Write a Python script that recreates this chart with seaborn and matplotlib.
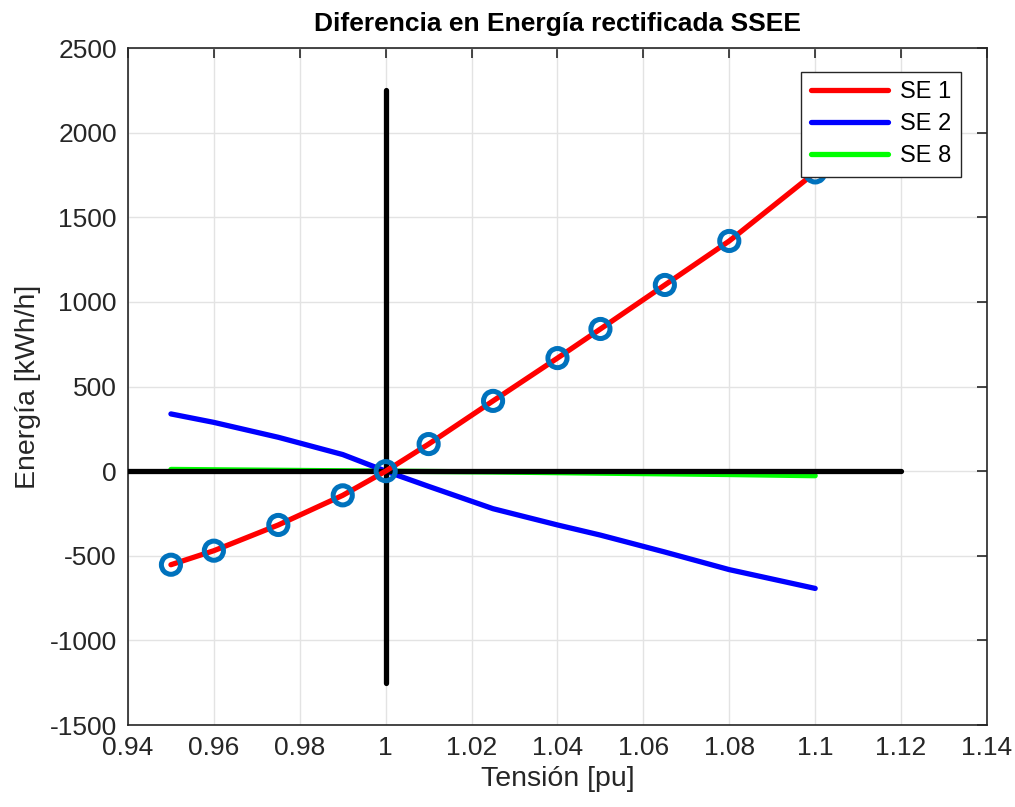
import numpy as np
import pandas as pd
import seaborn as sns
import matplotlib.pyplot as plt

# datos
tension = [0.95, 0.96, 0.975, 0.99, 1.0, 1.01, 1.025, 1.04, 1.05, 1.065, 1.08, 1.1]
se1 = [-553, -470, -318, -143, 0, 160, 415, 668, 840, 1100, 1360, 1765]
se2 = [338, 288, 200, 98, 0, -90, -222, -318, -378, -478, -582, -693]
se8 = [10, 8, 5, 2, 0, -2, -5, -9, -12, -16, -20, -27]

x_ticks = [0.94, 0.96, 0.98, 1, 1.02, 1.04, 1.06, 1.08, 1.1, 1.12, 1.14]
x_ticklabels = ["0.94", "0.96", "0.98", "1", "1.02", "1.04", "1.06", "1.08", "1.1", "1.12", "1.14"]
y_ticks = [-1500, -1000, -500, 0, 500, 1000, 1500, 2000, 2500]

df = pd.DataFrame({"tension": tension, "SE 1": se1, "SE 2": se2, "SE 8": se8})

sns.set_theme(style="white")
plt.rcParams["font.family"] = ["Liberation Sans", "DejaVu Sans"]
plt.rcParams["axes.unicode_minus"] = False

fig = plt.figure(figsize=(10.15, 8.07), dpi=100)
ax = fig.add_axes([0.1261, 0.1016, 0.8463, 0.8389])

lw = 3.8
sns.lineplot(x="tension", y="SE 8", data=df, color="#00ff00", lw=lw, ax=ax, zorder=2)
sns.lineplot(x="tension", y="SE 2", data=df, color="#0000ff", lw=lw, ax=ax, zorder=3)
sns.lineplot(x="tension", y="SE 1", data=df, color="#ff0000", lw=lw, ax=ax, zorder=4)

# ejes de referencia
ax.plot([1, 1], [-1250, 2250], color="black", lw=3.8, zorder=3.5)
ax.plot([0.94, 1.12], [0, 0], color="black", lw=3.8, zorder=3.5)

# marcadores
sns.scatterplot(x="tension", y="SE 1", data=df, marker="o", s=190, facecolor="none",
                edgecolor="#0072BD", linewidth=3.6, ax=ax, zorder=5)

ax.set_xlim(0.94, 1.14)
ax.set_ylim(-1500, 2500)
ax.set_xticks(x_ticks)
ax.set_xticklabels(x_ticklabels)
ax.set_yticks(y_ticks)
ax.grid(True, color="#e3e3e3", lw=1.0)
ax.set_axisbelow(True)
for s in ax.spines.values():
    s.set_visible(True)
    s.set_color("#262626")
    s.set_linewidth(1.2)
ax.tick_params(direction="in", length=7, width=1.2, color="#262626", labelsize=19,
               labelcolor="#262626", top=True, right=True, pad=8)

ax.set_title("Diferencia en Energía rectificada SSEE", fontsize=19, fontweight="bold",
             pad=12, color="black")
ax.set_xlabel("Tensión [pu]", fontsize=20.5, color="#262626", labelpad=4)
ax.set_ylabel("Energía [kWh/h]", fontsize=20.5, color="#262626", labelpad=6)

h = [plt.Line2D([], [], color=c, lw=3.8) for c in ["#ff0000", "#0000ff", "#00ff00"]]
leg = ax.legend(h, ["SE 1", "SE 2", "SE 8"], loc="upper right", bbox_to_anchor=(0.9697, 0.9645),
                borderaxespad=0, fontsize=17, frameon=True, fancybox=False, handlelength=3.3,
                handletextpad=0.5, borderpad=0.4, labelspacing=0.42, edgecolor="#262626",
                framealpha=1.0)
leg.get_frame().set_linewidth(1.0)
leg.set_zorder(10)
for t in leg.get_texts():
    t.set_color("black")

plt.savefig("out.png", dpi=100)
plt.close()
